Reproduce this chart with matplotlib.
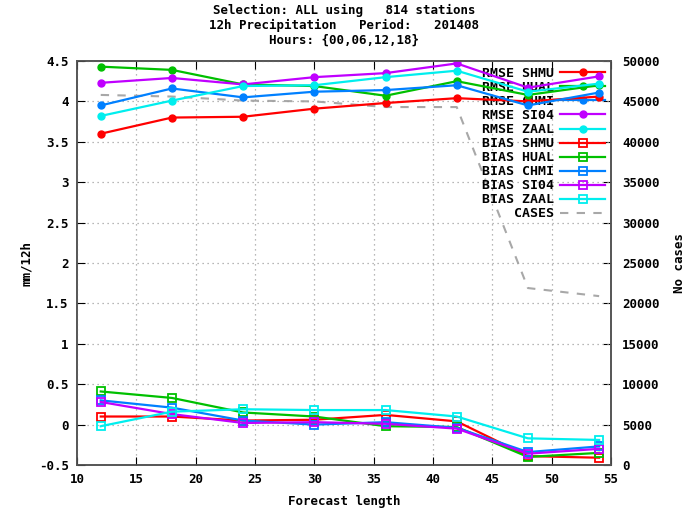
import matplotlib
matplotlib.use('Agg')
import matplotlib.pyplot as plt
from matplotlib.ticker import FormatStrFormatter, MultipleLocator

# forecast lengths (hours)
lead = [12, 18, 24, 30, 36, 42, 48, 54]

rmse_shmu = [3.60, 3.80, 3.81, 3.91, 3.98, 4.04, 4.00, 4.06]
rmse_hual = [4.43, 4.39, 4.21, 4.19, 4.07, 4.25, 4.08, 4.20]
rmse_chmi = [3.95, 4.16, 4.05, 4.12, 4.14, 4.20, 3.95, 4.11]
rmse_si04 = [4.23, 4.29, 4.21, 4.30, 4.35, 4.47, 4.17, 4.31]
rmse_zaal = [3.82, 4.01, 4.19, 4.20, 4.30, 4.38, 4.12, 4.22]

bias_shmu = [0.10, 0.10, 0.05, 0.06, 0.12, 0.04, -0.39, -0.41]
bias_hual = [0.41, 0.33, 0.15, 0.10, -0.02, -0.03, -0.40, -0.35]
bias_chmi = [0.30, 0.21, 0.05, 0.00, 0.03, -0.04, -0.34, -0.27]
bias_si04 = [0.28, 0.13, 0.02, 0.03, 0.01, -0.05, -0.36, -0.30]
bias_zaal = [-0.02, 0.16, 0.19, 0.18, 0.18, 0.10, -0.17, -0.19]

cases = [45800, 45600, 45100, 45000, 44300, 44300, 21900, 20900]

names = ['SHMU', 'HUAL', 'CHMI', 'SI04', 'ZAAL']
colors = ['#ff0000', '#00c000', '#0080ff', '#c000ff', '#00eeee']
rmse = [rmse_shmu, rmse_hual, rmse_chmi, rmse_si04, rmse_zaal]
bias = [bias_shmu, bias_hual, bias_chmi, bias_si04, bias_zaal]

font = {'family': 'DejaVu Sans Mono', 'weight': 'bold', 'size': 9}
plt.rcParams['font.family'] = 'DejaVu Sans Mono'
plt.rcParams['font.weight'] = 'bold'
plt.rcParams['font.size'] = 9

fig = plt.figure(figsize=(6.88, 5.09), dpi=100)
ax = fig.add_axes([77 / 688, 44 / 509, 534 / 688, 404 / 509])
ax2 = ax.twinx()
ax.set_zorder(ax2.get_zorder() + 1)
ax.patch.set_visible(False)

handles = []
for n, c, r in zip(names, colors, rmse):
    h, = ax.plot(lead, r, color=c, lw=1.6, marker='o', ms=5, label='RMSE ' + n)
    handles.append(h)
for n, c, b in zip(names, colors, bias):
    h, = ax.plot(lead, b, color=c, lw=1.6, marker='s', ms=5.5, mfc='none',
                 mew=1.3, label='BIAS ' + n)
    handles.append(h)
hc, = ax2.plot(lead, cases, color='#a8a8a8', lw=1.5, ls=(0, (4, 4)), label='CASES')
handles.append(hc)

ax.set_xlim(10, 55)
ax.set_ylim(-0.5, 4.5)
ax2.set_ylim(0, 50000)
ax.xaxis.set_major_locator(MultipleLocator(5))
ax.yaxis.set_major_locator(MultipleLocator(0.5))
ax2.yaxis.set_major_locator(MultipleLocator(5000))
ax.yaxis.set_major_formatter(FormatStrFormatter('%g'))
ax.grid(True, color='#a0a0a0', ls=(0, (1, 3)), lw=0.9)

ax.tick_params(direction='in', length=6, top=True, right=False, labelsize=9, pad=6)
ax2.tick_params(direction='in', length=6, labelsize=9, pad=8)
for a in (ax, ax2):
    for s in a.spines.values():
        s.set_color('#555555')
        s.set_linewidth(1.2)

ax.set_xlabel('Forecast length', fontdict=font, labelpad=6)
ax.set_ylabel('mm/12h', fontdict=font, labelpad=4)
ax2.set_ylabel('No cases', fontdict=font, labelpad=10)

fig.text(0.5, 0.992, 'Selection: ALL using   814 stations\n'
         '12h Precipitation   Period:   201408\n'
         'Hours: {00,06,12,18}', ha='center', va='top',
         linespacing=1.15, fontdict=font)

legfont = dict(font, size=9.5)
leg = ax.legend(handles=handles, loc='upper right', frameon=False, markerfirst=False,
                handlelength=3.4, labelspacing=0.08, borderaxespad=0.05,
                handletextpad=0.5, prop=legfont)
leg.set_zorder(1.5)

fig.savefig('out.png', dpi=100)
